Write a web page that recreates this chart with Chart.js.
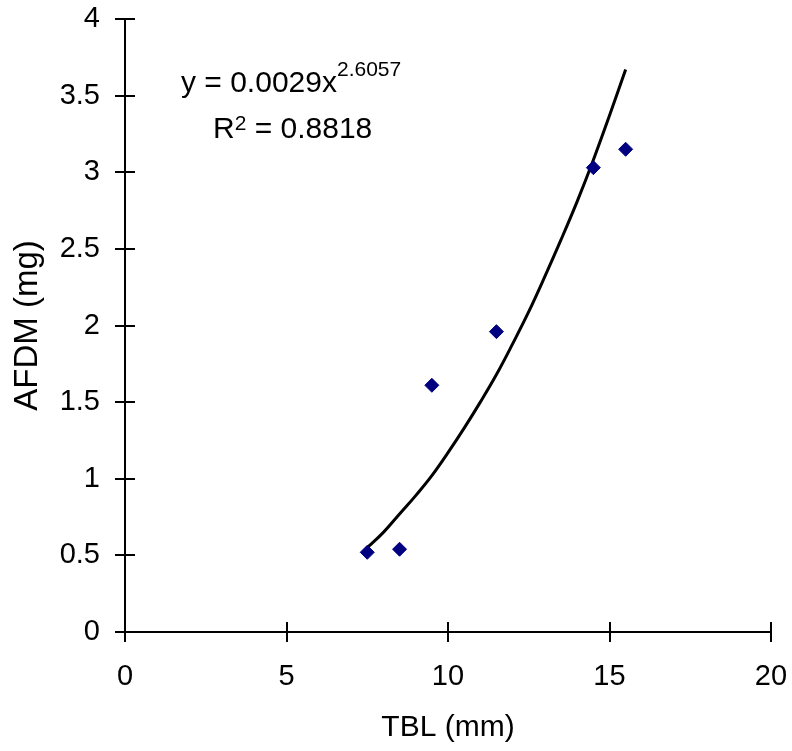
<!DOCTYPE html>
<html>
<head>
<meta charset="utf-8">
<script src="https://cdn.jsdelivr.net/npm/chart.js@4.4.1/dist/chart.umd.min.js"></script>
<style>
    html, body { margin: 0; padding: 0; background: #fff; }
    #wrap { width: 792px; height: 751px; }
</style>
</head>
<body>
<div id="wrap"><canvas id="chart"></canvas></div>
<script>
// measured points
const tbl = [7.5, 8.5, 9.5, 11.5, 14.5, 15.5]
const afdm = [0.52, 0.54, 1.61, 1.96, 3.03, 3.15]

// power trend line
const trendX = [7.5, 8, 8.5, 9, 9.5, 10, 10.5, 11, 11.5, 12, 12.5, 13, 13.5, 14, 14.5, 15, 15.5]
const trendY = [0.55, 0.65, 0.77, 0.89, 1.02, 1.17, 1.33, 1.50, 1.68, 1.88, 2.09, 2.32, 2.56, 2.81, 3.08, 3.37, 3.67]

const xTicks = [0, 5, 10, 15, 20]
const yTicks = [0, 0.5, 1, 1.5, 2, 2.5, 3, 3.5, 4]

const eqText = 'y = 0.0029x'
const eqPower = '2.6057'
const r2Text = ' = 0.8818'

const font = 'Liberation Sans, Arial, sans-serif'
const marker = '#000080'

const points = tbl.map((x, i) => ({ x: x, y: afdm[i] }))
const trend = trendX.map((x, i) => ({ x: x, y: trendY[i] }))

// excel style ticks cross the axis, chart.js only draws the outer half
const innerTicks = {
    id: 'innerTicks',
    afterDraw(chart) {
        const ctx = chart.ctx
        const xs = chart.scales.x
        const ys = chart.scales.y
        const a = chart.chartArea
        ctx.save()
        ctx.strokeStyle = '#000'
        ctx.lineWidth = 2
        ctx.beginPath()
        xTicks.forEach(v => {
            const px = Math.round(xs.getPixelForValue(v))
            ctx.moveTo(px, a.bottom)
            ctx.lineTo(px, a.bottom - 10)
        })
        yTicks.forEach(v => {
            const py = Math.round(ys.getPixelForValue(v))
            ctx.moveTo(a.left, py)
            ctx.lineTo(a.left + 10, py)
        })
        ctx.stroke()
        ctx.restore()
    }
}

const equation = {
    id: 'equation',
    afterDraw(chart) {
        const ctx = chart.ctx
        ctx.save()
        ctx.fillStyle = '#000'
        ctx.textBaseline = 'alphabetic'
        ctx.textAlign = 'left'
        ctx.font = '30px ' + font
        ctx.fillText(eqText, 181, 92)
        let w = ctx.measureText(eqText).width
        ctx.font = '21px ' + font
        ctx.fillText(eqPower, 181 + w, 76)
        ctx.font = '30px ' + font
        ctx.fillText('R', 213, 138)
        let rw = ctx.measureText('R').width
        ctx.font = '21px ' + font
        ctx.fillText('2', 213 + rw, 130)
        let sw = ctx.measureText('2').width
        ctx.font = '30px ' + font
        ctx.fillText(r2Text, 213 + rw + sw, 138)
        ctx.restore()
    }
}

// keep the plot box where the reference has it
function noPad(s) {
    s.paddingTop = 0
    s.paddingBottom = 0
    s.paddingLeft = 0
    s.paddingRight = 0
}

const chart = new Chart(document.getElementById('chart'), {
    type: 'scatter',
    data: {
        datasets: [
            {
                label: 'AFDM',
                data: points,
                pointStyle: 'rectRot',
                pointRadius: 7,
                pointBackgroundColor: marker,
                pointBorderColor: marker,
                pointBorderWidth: 1,
                showLine: false,
                order: 1
            },
            {
                label: 'Power trend',
                data: trend,
                showLine: true,
                borderColor: '#000',
                borderWidth: 3,
                tension: 0.4,
                pointRadius: 0,
                order: 2
            }
        ]
    },
    options: {
        responsive: true,
        maintainAspectRatio: false,
        animation: false,
        layout: { padding: { top: 19, right: 21, left: 0, bottom: 0 } },
        plugins: {
            legend: { display: false },
            tooltip: { enabled: false }
        },
        scales: {
            x: {
                type: 'linear',
                min: 0,
                max: 20,
                afterBuildTicks: s => { s.ticks = xTicks.map(v => ({ value: v })) },
                afterFit: s => { s.height = 119; noPad(s) },
                border: { color: '#000', width: 2 },
                grid: { drawOnChartArea: false, color: '#000', lineWidth: 2, tickLength: 10 },
                ticks: {
                    color: '#000', padding: 18, maxRotation: 0,
                    font: { family: font, size: 29 },
                    callback: v => String(v)
                },
                title: {
                    display: true,
                    text: 'TBL (mm)',
                    color: '#000',
                    padding: { top: 0, bottom: 5 },
                    font: { family: font, size: 30 }
                }
            },
            y: {
                type: 'linear',
                min: 0,
                max: 4,
                afterBuildTicks: s => { s.ticks = yTicks.map(v => ({ value: v })) },
                afterFit: s => { s.width = 125; noPad(s) },
                border: { color: '#000', width: 2 },
                grid: { drawOnChartArea: false, color: '#000', lineWidth: 2, tickLength: 10 },
                ticks: {
                    color: '#000', padding: 15,
                    font: { family: font, size: 29 },
                    callback: v => String(v)
                },
                title: {
                    display: true,
                    text: 'AFDM (mg)',
                    color: '#000',
                    padding: { top: 8, bottom: 0 },
                    font: { family: font, size: 33 }
                }
            }
        }
    },
    plugins: [innerTicks, equation]
})
</script>
</body>
</html>
